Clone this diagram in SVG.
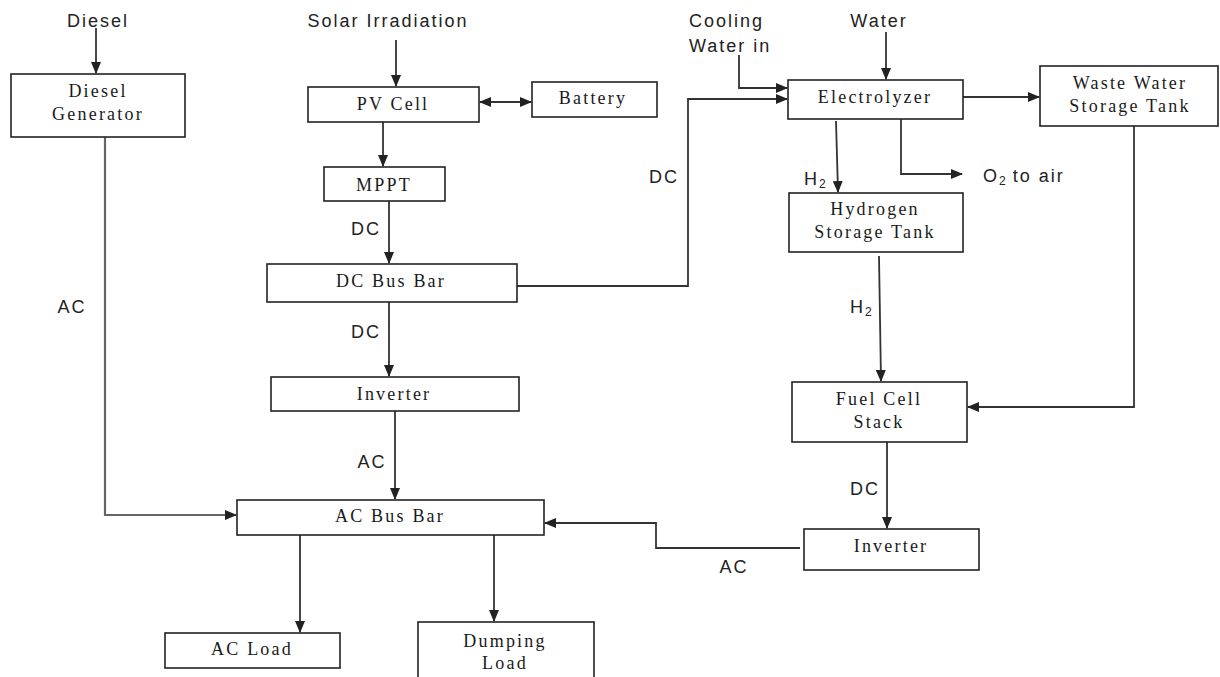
<svg xmlns="http://www.w3.org/2000/svg" width="1220" height="677" viewBox="0 0 1220 677">
<style>
.box{fill:#fff;stroke:#222;stroke-width:1.6}
.bt{font-family:"Liberation Serif","Times New Roman",serif;font-size:18px;letter-spacing:2.2px;fill:#1a1a1a;text-anchor:middle}
.lb{font-family:"Liberation Sans",Arial,sans-serif;font-size:18px;letter-spacing:2px;fill:#222}
.mid{text-anchor:middle}
.sub{font-size:12px;letter-spacing:0}
.c{fill:none;stroke:#333;stroke-width:1.8}
.cg{fill:none;stroke:#666;stroke-width:2.2}
</style>
<defs>
<marker id="ah" markerWidth="12" markerHeight="10" refX="11" refY="5" orient="auto" markerUnits="userSpaceOnUse">
<path d="M0,0 L12,5 L0,10 Z" fill="#222"/>
</marker>
<marker id="as" markerWidth="12" markerHeight="10" refX="1" refY="5" orient="auto" markerUnits="userSpaceOnUse">
<path d="M12,0 L0,5 L12,10 Z" fill="#222"/>
</marker>
</defs>
<rect width="1220" height="677" fill="#fff"/>

<g id="connectors">
<path class="c" d="M96,28 V73" marker-end="url(#ah)"/>
<path class="c" d="M396,40 V86" marker-end="url(#ah)"/>
<path class="c" d="M480,102 H531" marker-start="url(#as)" marker-end="url(#ah)"/>
<path class="c" d="M383,122 V166" marker-end="url(#ah)"/>
<path class="c" d="M389,201 V263" marker-end="url(#ah)"/>
<path class="c" d="M517,286 H688 V99 H787" marker-end="url(#ah)"/>
<path class="c" d="M739,55 V88 H787" marker-end="url(#ah)"/>
<path class="c" d="M886,32 V79" marker-end="url(#ah)"/>
<path class="c" d="M963,97 H1039" marker-end="url(#ah)"/>
<path class="c" d="M836,121 L838,192" marker-end="url(#ah)"/>
<path class="c" d="M901,119 V174 H962" marker-end="url(#ah)"/>
<path class="c" d="M879,256 L881,381" marker-end="url(#ah)"/>
<path class="c" d="M1134,126 V407 H968" marker-end="url(#ah)"/>
<path class="c" d="M887,442 V528" marker-end="url(#ah)"/>
<path class="c" d="M800,548 H656 V523 H545" marker-end="url(#ah)"/>
<path class="c" d="M389,300 V376" marker-end="url(#ah)"/>
<path class="c" d="M395,411 V499" marker-end="url(#ah)"/>
<path class="cg" d="M105,137 V515 H236" marker-end="url(#ah)"/>
<path class="c" d="M300,535 V632" marker-end="url(#ah)"/>
<path class="c" d="M494,535 V621" marker-end="url(#ah)"/>
</g>

<g id="labels">
<text class="lb mid" x="98" y="27">Diesel</text>
<text class="lb mid" x="388" y="27">Solar Irradiation</text>
<text class="lb" x="689" y="27">Cooling</text>
<text class="lb" x="689" y="52">Water in</text>
<text class="lb mid" x="879" y="27">Water</text>
<text class="lb" x="983" y="182">O<tspan class="sub" dy="3">2</tspan><tspan dy="-3"> to air</tspan></text>
<text class="lb" x="804" y="185">H<tspan class="sub" dy="3">2</tspan></text>
<text class="lb mid" x="664" y="183">DC</text>
<text class="lb mid" x="366" y="235">DC</text>
<text class="lb mid" x="366" y="338">DC</text>
<text class="lb mid" x="372" y="468">AC</text>
<text class="lb mid" x="72" y="313">AC</text>
<text class="lb" x="850" y="313">H<tspan class="sub" dy="3">2</tspan></text>
<text class="lb mid" x="865" y="495">DC</text>
<text class="lb mid" x="734" y="573">AC</text>
</g>

<g id="diesel-generator"><rect class="box" x="11" y="74" width="174" height="63"/><text class="bt" x="98" y="97">Diesel</text><text class="bt" x="98" y="120">Generator</text></g>
<g id="pv-cell"><rect class="box" x="308" y="87" width="171" height="35"/><text class="bt" x="393" y="110">PV Cell</text></g>
<g id="battery"><rect class="box" x="532" y="82" width="125" height="35"/><text class="bt" x="593" y="104">Battery</text></g>
<g id="mppt"><rect class="box" x="324" y="167" width="121" height="34"/><text class="bt" x="384" y="191">MPPT</text></g>
<g id="dc-bus-bar"><rect class="box" x="267" y="264" width="250" height="38"/><text class="bt" x="391" y="287">DC Bus Bar</text></g>
<g id="inverter-1"><rect class="box" x="271" y="377" width="248" height="34"/><text class="bt" x="394" y="400">Inverter</text></g>
<g id="ac-bus-bar"><rect class="box" x="237" y="500" width="307" height="35"/><text class="bt" x="390" y="522">AC Bus Bar</text></g>
<g id="ac-load"><rect class="box" x="165" y="633" width="175" height="35"/><text class="bt" x="252" y="655">AC Load</text></g>
<g id="dumping-load"><rect class="box" x="418" y="622" width="176" height="62"/><text class="bt" x="505" y="647">Dumping</text><text class="bt" x="505" y="669">Load</text></g>
<g id="electrolyzer"><rect class="box" x="788" y="80" width="175" height="39"/><text class="bt" x="875" y="103">Electrolyzer</text></g>
<g id="waste-water-tank"><rect class="box" x="1040" y="66" width="178" height="60"/><text class="bt" x="1130" y="89">Waste Water</text><text class="bt" x="1130" y="112">Storage Tank</text></g>
<g id="hydrogen-tank"><rect class="box" x="789" y="193" width="174" height="59"/><text class="bt" x="875" y="215">Hydrogen</text><text class="bt" x="875" y="238">Storage Tank</text></g>
<g id="fuel-cell-stack"><rect class="box" x="792" y="382" width="175" height="60"/><text class="bt" x="879" y="405">Fuel Cell</text><text class="bt" x="879" y="428">Stack</text></g>
<g id="inverter-2"><rect class="box" x="804" y="529" width="175" height="41"/><text class="bt" x="891" y="552">Inverter</text></g>
</svg>
